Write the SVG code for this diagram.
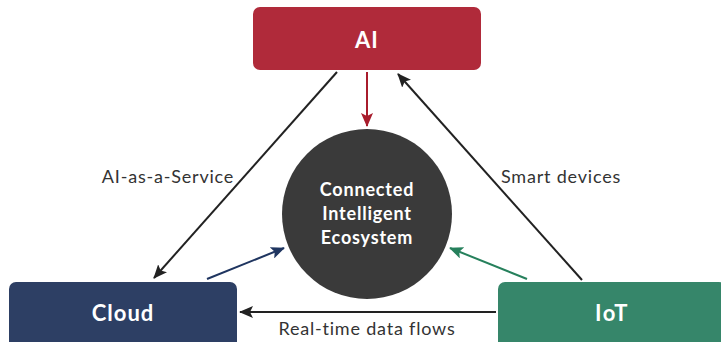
<svg xmlns="http://www.w3.org/2000/svg" width="721" height="342" viewBox="0 0 721 342">
<defs>
<style>
.lbl{font-family:Lato,"Open Sans","DejaVu Sans",sans-serif;font-size:18px;letter-spacing:0.8px;fill:#333;}
.nt{font-family:Lato,"Open Sans","DejaVu Sans",sans-serif;font-weight:bold;fill:#fff;text-anchor:middle;}
.ln{fill:none;stroke-width:2;}
</style>
<marker id="mk" markerWidth="14" markerHeight="12" refX="13" refY="6" orient="auto" markerUnits="userSpaceOnUse"><path d="M0,0 L14,6 L0,12 L3,6 Z" fill="#222"/></marker>
<marker id="mr" markerWidth="14" markerHeight="12" refX="13" refY="6" orient="auto" markerUnits="userSpaceOnUse"><path d="M0,0 L14,6 L0,12 L3,6 Z" fill="#a81c2c"/></marker>
<marker id="mb" markerWidth="14" markerHeight="12" refX="13" refY="6" orient="auto" markerUnits="userSpaceOnUse"><path d="M0,0 L14,6 L0,12 L3,6 Z" fill="#1f3560"/></marker>
<marker id="mg" markerWidth="14" markerHeight="12" refX="13" refY="6" orient="auto" markerUnits="userSpaceOnUse"><path d="M0,0 L14,6 L0,12 L3,6 Z" fill="#26805c"/></marker>
</defs>
<rect width="721" height="342" fill="#fff"/>
<g id="connectors">
<line class="ln" x1="337" y1="72" x2="154" y2="278" stroke="#222" marker-end="url(#mk)"/>
<line class="ln" x1="582" y1="280" x2="398" y2="74" stroke="#222" marker-end="url(#mk)"/>
<line class="ln" x1="367" y1="72" x2="367" y2="126" stroke="#a81c2c" marker-end="url(#mr)"/>
<line class="ln" x1="207" y1="279" x2="284" y2="248" stroke="#1f3560" marker-end="url(#mb)"/>
<line class="ln" x1="527" y1="279" x2="450" y2="248" stroke="#26805c" marker-end="url(#mg)"/>
<line class="ln" x1="496" y1="312" x2="240" y2="312" stroke="#222" marker-end="url(#mk)"/>
<text class="lbl" x="168" y="183" text-anchor="middle">AI-as-a-Service</text>
<text class="lbl" x="561" y="183" text-anchor="middle">Smart devices</text>
<text class="lbl" x="367" y="335" text-anchor="middle">Real-time data flows</text>
</g>
<g id="ai">
<rect x="253" y="7" width="228" height="63" rx="7" fill="#b02a3a"/>
<text class="nt" x="367" y="48" font-size="22" letter-spacing="1">AI</text>
</g>
<g id="cloud">
<rect x="9" y="282" width="228" height="66" rx="7" fill="#2d3f64"/>
<text class="nt" x="123" y="321" font-size="22" letter-spacing="1">Cloud</text>
</g>
<g id="iot">
<rect x="498" y="282" width="228" height="66" rx="7" fill="#36866a"/>
<text class="nt" x="612" y="321" font-size="22" letter-spacing="1.5">IoT</text>
</g>
<g id="ecosystem">
<circle cx="367" cy="214" r="85" fill="#3a3a3a"/>
<text class="nt" font-size="18" letter-spacing="0.8"><tspan x="367" y="196">Connected</tspan><tspan x="367" y="220">Intelligent</tspan><tspan x="367" y="244">Ecosystem</tspan></text>
</g>
</svg>
